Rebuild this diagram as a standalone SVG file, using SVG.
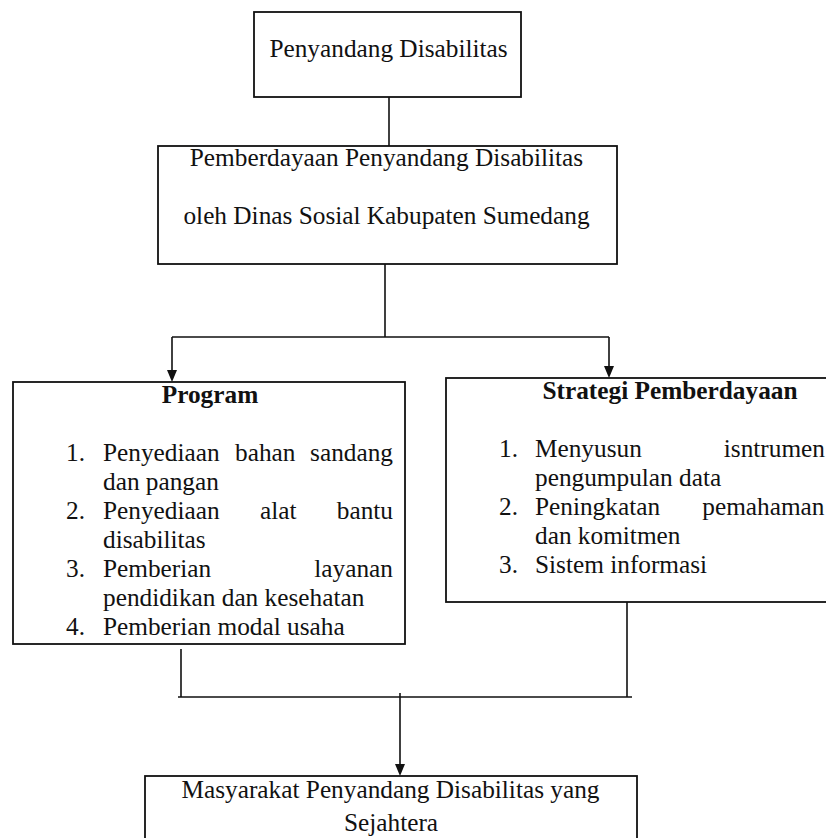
<svg xmlns="http://www.w3.org/2000/svg" width="826" height="838" viewBox="0 0 826 838">
<style>
.box{fill:#fff;stroke:#111;stroke-width:1.8}
.t{font-family:"Liberation Serif","Times New Roman",serif;font-size:25.3px;fill:#111}
.b{font-weight:bold}
.m{text-anchor:middle}
.e{text-anchor:end}
.ln{fill:none;stroke:#111;stroke-width:1.6}
</style>
<defs>
<marker id="ah" viewBox="0 0 10 12" refX="5" refY="12" markerWidth="10" markerHeight="12" markerUnits="userSpaceOnUse" orient="auto-start-reverse">
<path d="M0,0 L10,0 L5,12 Z" fill="#111"/>
</marker>
</defs>
<rect width="826" height="838" fill="#fff"/>
<g id="connectors">
<path class="ln" d="M389,97 V146"/>
<path class="ln" d="M385,264 V337 M172,337 H609"/>
<path class="ln" d="M172,337 V370"/>
<path class="ln" d="M609,337 V366"/>
<path class="ln" d="M181,649 V697 M178,697 H632 M627,602 V697"/>
<path class="ln" d="M400,693 V764"/>
<path d="M167,370 L177,370 L172,382 Z" fill="#111"/>
<path d="M604,366 L614,366 L609,378 Z" fill="#111"/>
<path d="M395,764 L405,764 L400,776 Z" fill="#111"/>
</g>
<g id="node-penyandang">
<rect class="box" x="254" y="12" width="267" height="85"/>
<text class="t m" x="388.5" y="57">Penyandang Disabilitas</text>
</g>
<g id="node-pemberdayaan">
<rect class="box" x="158" y="146" width="459" height="118"/>
<text class="t m" x="386.5" y="166">Pemberdayaan Penyandang Disabilitas</text>
<text class="t m" x="386.5" y="224">oleh Dinas Sosial Kabupaten Sumedang</text>
</g>
<g id="node-program">
<rect class="box" x="13" y="382" width="392" height="262"/>
<text class="t b m" x="210" y="403">Program</text>
<text class="t" x="66" y="461">1.</text>
<text class="t" x="103" y="461">Penyediaan</text>
<text class="t" x="235" y="461">bahan</text>
<text class="t e" x="393" y="461">sandang</text>
<text class="t" x="103" y="490">dan pangan</text>
<text class="t" x="66" y="519">2.</text>
<text class="t" x="103" y="519">Penyediaan</text>
<text class="t" x="260" y="519">alat</text>
<text class="t e" x="393" y="519">bantu</text>
<text class="t" x="103" y="548">disabilitas</text>
<text class="t" x="66" y="577">3.</text>
<text class="t" x="103" y="577">Pemberian</text>
<text class="t e" x="393" y="577">layanan</text>
<text class="t" x="103" y="606">pendidikan dan kesehatan</text>
<text class="t" x="66" y="635">4.</text>
<text class="t" x="103" y="635">Pemberian modal usaha</text>
</g>
<g id="node-strategi">
<rect class="box" x="446" y="378" width="400" height="224"/>
<text class="t b m" x="670" y="399">Strategi Pemberdayaan</text>
<text class="t" x="499" y="457">1.</text>
<text class="t" x="535" y="457">Menyusun</text>
<text class="t e" x="825" y="457">isntrumen</text>
<text class="t" x="535" y="486">pengumpulan data</text>
<text class="t" x="499" y="515">2.</text>
<text class="t" x="535" y="515">Peningkatan</text>
<text class="t e" x="824.5" y="515">pemahaman</text>
<text class="t" x="535" y="544">dan komitmen</text>
<text class="t" x="499" y="573">3.</text>
<text class="t" x="535" y="573">Sistem informasi</text>
</g>
<g id="node-masyarakat">
<rect class="box" x="145" y="776" width="492" height="80"/>
<text class="t m" x="390.5" y="798">Masyarakat Penyandang Disabilitas yang</text>
<text class="t m" x="391" y="831">Sejahtera</text>
</g>
</svg>
